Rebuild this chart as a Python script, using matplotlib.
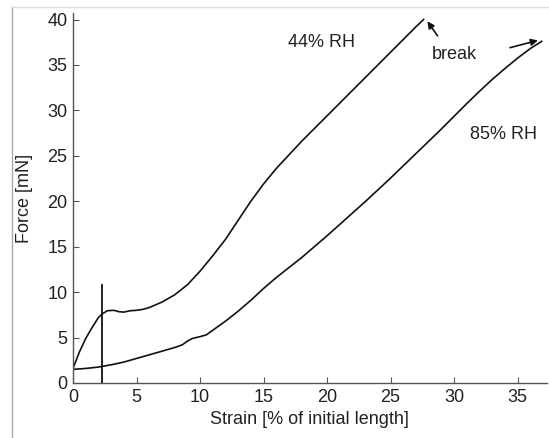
import matplotlib
matplotlib.use("Agg")
import matplotlib.pyplot as plt
from matplotlib.lines import Line2D

plt.rcParams['font.family'] = ['Liberation Sans', 'DejaVu Sans']

strain44 = [0, 0.5, 1.0, 1.5, 2.0, 2.3, 2.7, 3.2, 3.6, 4.0, 4.5, 5.0, 5.5, 6.0, 7.0, 8.0,
            9.0, 10.0, 11.0, 12.0, 13.0, 14.0, 15.0, 16.0, 17.0, 18.0, 19.0, 20.0, 21.0,
            22.0, 23.0, 24.0, 25.0, 26.0, 27.0, 27.6]
force44 = [1.6, 3.4, 4.9, 6.1, 7.2, 7.6, 7.95, 8.0, 7.85, 7.8, 7.95, 8.0, 8.1, 8.3, 8.9, 9.7,
           10.8, 12.3, 14.0, 15.8, 17.9, 20.0, 21.9, 23.6, 25.1, 26.6, 28.0, 29.4, 30.8,
           32.2, 33.6, 35.0, 36.4, 37.8, 39.2, 40.0]

strain85 = [0, 1, 2, 3, 4, 5, 6, 7, 8, 8.6, 9.0, 9.4, 10.0, 10.5, 11, 12, 13, 14, 15, 16, 17,
            18, 19, 20, 21, 22, 23, 24, 25, 26, 27, 28, 29, 30, 31, 32, 33, 34, 35, 36, 36.9]
force85 = [1.5, 1.6, 1.75, 2.0, 2.3, 2.7, 3.1, 3.5, 3.9, 4.2, 4.6, 4.9, 5.1, 5.3, 5.8, 6.8,
           7.9, 9.1, 10.4, 11.6, 12.7, 13.8, 15.0, 16.2, 17.45, 18.7, 19.95, 21.25, 22.55, 23.9,
           25.25, 26.6, 27.95, 29.35, 30.75, 32.1, 33.4, 34.6, 35.75, 36.8, 37.6]

marker_strain = 2.25
marker_top = 10.8

xticks = [0, 5, 10, 15, 20, 25, 30, 35]
yticks = [0, 5, 10, 15, 20, 25, 30, 35, 40]

fig = plt.figure(figsize=(5.49, 4.38), dpi=100)
ax = fig.add_axes([0.133, 0.1256, 0.863, 0.8444])

ax.plot(strain44, force44, color='#111111', lw=1.2)
ax.plot(strain85, force85, color='#111111', lw=1.2)
ax.plot([marker_strain, marker_strain], [0, marker_top], color='#111111', lw=1.3)

ax.set_xlim(0, 37.3)
ax.set_ylim(0, 40.7)
ax.set_xticks(xticks)
ax.set_yticks(yticks)
for s in ['top', 'right']:
    ax.spines[s].set_visible(False)
for s in ['left', 'bottom']:
    ax.spines[s].set_color('#555555')
    ax.spines[s].set_linewidth(1.0)
ax.tick_params(direction='in', length=4, width=0.8, colors='#555555', labelcolor='#222222',
               labelsize=13, pad=4)

ax.set_xlabel('Strain [% of initial length]', fontsize=13, color='#222222', labelpad=4)
ax.set_ylabel('Force [mN]', fontsize=13, color='#222222', labelpad=10)

ax.text(19.6, 37.5, '44% RH', fontsize=13, ha='center', va='center', color='#222222')
ax.text(33.9, 27.3, '85% RH', fontsize=13, ha='center', va='center', color='#222222')
ax.text(30.0, 36.2, 'break', fontsize=13, ha='center', va='center', color='#222222')

ax.annotate('', xy=(27.9, 39.8), xytext=(28.7, 38.2),
            arrowprops=dict(arrowstyle='-|>', color='#111111', lw=1.2, mutation_scale=10,
                            shrinkA=0, shrinkB=0))
ax.annotate('', xy=(36.6, 37.7), xytext=(34.4, 36.9),
            arrowprops=dict(arrowstyle='-|>', color='#111111', lw=1.2, mutation_scale=10,
                            shrinkA=0, shrinkB=0))

# faint frame lines at the figure's left and top
fig.add_artist(Line2D([12.3 / 549, 12.3 / 549], [0, 1 - 6.7 / 438], color='#aaaaaa', lw=1.0,
                      transform=fig.transFigure))
fig.add_artist(Line2D([12.3 / 549, 1], [1 - 6.7 / 438, 1 - 6.7 / 438], color='#dddddd', lw=1.0,
                      transform=fig.transFigure))

fig.savefig('out.png', dpi=100)
